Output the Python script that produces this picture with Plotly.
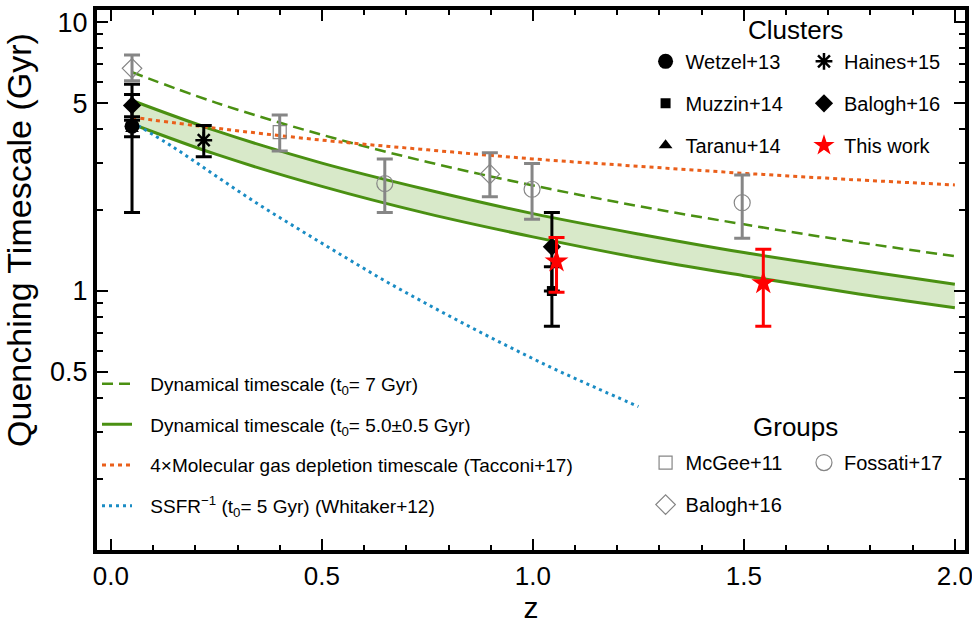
import plotly.graph_objects as go

# ---------------- data ----------------
# model curves
z_dyn = [0.05, 0.25, 0.5, 0.75, 1.0, 1.25, 1.5, 1.75, 2.0]
t_dyn7 = [6.51, 5.01, 3.81, 3.02, 2.47, 2.07, 1.77, 1.535, 1.347]
t_dyn_hi = [5.11, 3.94, 2.99, 2.38, 1.94, 1.63, 1.39, 1.21, 1.06]
t_dyn_lo = [4.18, 3.22, 2.45, 1.94, 1.59, 1.33, 1.14, 0.987, 0.866]
t_gas = [4.43, 4.03, 3.64, 3.35, 3.10, 2.91, 2.74, 2.60, 2.48]

z_ssfr = [0.05, 0.15, 0.25, 0.35, 0.45, 0.55, 0.65, 0.75, 0.85, 0.95, 1.05, 1.15, 1.25]
t_ssfr = [4.25, 3.41, 2.67, 2.10, 1.68, 1.35, 1.09, 0.893, 0.737, 0.613, 0.514, 0.436, 0.372]

# clusters
wetzel_z, wetzel_t, wetzel_up, wetzel_dn = [0.05], [4.1], [0.35], [0.35]
taranu_z, taranu_t, taranu_up, taranu_dn = [0.05], [4.0], [1.87], [2.04]
muzzin_z, muzzin_t, muzzin_up, muzzin_dn = [1.045], [1.0], [0.23], [0.26]
haines_z, haines_t, haines_up, haines_dn = [0.22], [3.64], [0.49], [0.48]
baloghc_z, baloghc_t, baloghc_up, baloghc_dn = [0.05, 1.045], [4.9, 1.46], [0.48, 0.50], [0.58, 0.46]
this_z, this_t, this_up, this_dn = [1.056, 1.546], [1.29, 1.07], [0.29, 0.36], [0.30, 0.33]

# groups
mcgee_z, mcgee_t, mcgee_up, mcgee_dn = [0.40], [3.9], [0.61], [0.58]
fossati_z, fossati_t, fossati_up, fossati_dn = [0.649, 0.998, 1.496], [2.51, 2.39, 2.13], [0.59, 0.59, 0.57], [0.55, 0.54, 0.56]
baloghg_z, baloghg_t, baloghg_up, baloghg_dn = [0.05, 0.898], [6.73, 2.72], [0.81, 0.55], [0.68, 0.48]

x_ticks = [0.0, 0.5, 1.0, 1.5, 2.0]
x_ticktext = ["0.0", "0.5", "1.0", "1.5", "2.0"]
y_ticks = [0.5, 1, 5, 10]
y_ticktext = ["0.5", "1", "5", "10"]
y_minor = [0.2, 0.3, 0.4, 0.6, 0.7, 0.8, 0.9, 2, 3, 4, 6, 7, 8, 9]

# ---------------- styles ----------------
GREEN = "#4a9012"
BAND = "rgba(190,218,165,0.6)"
ORANGE = "#ea5f1a"
BLUE = "#1a8cc4"
GRAY = "#868686"
FONT = "Liberation Sans, Arial, sans-serif"
SP = "\u2002\u2009"

fig = go.Figure()

# band
fig.add_trace(go.Scatter(x=z_dyn, y=t_dyn_lo, mode="lines", line=dict(color=GREEN, width=3, shape="spline"),
                         showlegend=False, hoverinfo="skip"))
fig.add_trace(go.Scatter(x=z_dyn, y=t_dyn_hi, mode="lines", line=dict(color=GREEN, width=3, shape="spline"),
                         fill="tonexty", fillcolor=BAND, showlegend=False, hoverinfo="skip"))

# lines legend traces
fig.add_trace(go.Scatter(x=z_dyn, y=t_dyn7, mode="lines", line=dict(color=GREEN, width=2.5, dash="11px,6px", shape="spline"),
                         name=SP + "Dynamical timescale (t<sub>0</sub>= 7 Gyr)", legend="legend", legendgroup="a"))
fig.add_trace(go.Scatter(x=[None], y=[None], mode="lines", line=dict(color=GREEN, width=3),
                         name=SP + "Dynamical timescale (t<sub>0</sub>= 5.0±0.5 Gyr)", legend="legend", legendgroup="b"))
fig.add_trace(go.Scatter(x=z_dyn, y=t_gas, mode="lines", line=dict(color=ORANGE, width=3, dash="4px,4px", shape="spline"),
                         name=SP + "4×Molecular gas depletion timescale (Tacconi+17)", legend="legend", legendgroup="c"))
fig.add_trace(go.Scatter(x=z_ssfr, y=t_ssfr, mode="lines", line=dict(color=BLUE, width=3, dash="3px,4px", shape="spline"),
                         name=SP + "SSFR<sup>−1</sup> (t<sub>0</sub>= 5 Gyr) (Whitaker+12)", legend="legend", legendgroup="d"))


def pts(x, y, up, dn, name, symbol, size, color, ecolor, legend, group, line_w=0):
    fig.add_trace(go.Scatter(
        x=x, y=y, mode="markers", name=name, legend=legend, legendgroup=group,
        marker=dict(symbol=symbol, size=size, color=color, line=dict(color=color, width=line_w)),
        error_y=dict(type="data", array=up, arrayminus=dn, color=ecolor, thickness=3, width=8),
    ))


# groups (gray)
pts(mcgee_z, mcgee_t, mcgee_up, mcgee_dn, "McGee+11", "square-open", 13, GRAY, GRAY, "legend4", "g1", 1.2)
pts(baloghg_z, baloghg_t, baloghg_up, baloghg_dn, "Balogh+16", "diamond-open", 15, GRAY, GRAY, "legend4", "g2", 1.2)
pts(fossati_z, fossati_t, fossati_up, fossati_dn, "Fossati+17", "circle-open", 16, GRAY, GRAY, "legend5", "g3", 1.2)

# clusters (black)
pts(taranu_z, taranu_t, taranu_up, taranu_dn, "Taranu+14", "triangle-up", 12, "black", "black", "legend2", "c3")
pts(wetzel_z, wetzel_t, wetzel_up, wetzel_dn, "Wetzel+13", "circle", 15, "black", "black", "legend2", "c1")
pts(muzzin_z, muzzin_t, muzzin_up, muzzin_dn, "Muzzin+14", "square", 10, "black", "black", "legend2", "c2")
pts(haines_z, haines_t, haines_up, haines_dn, "Haines+15", "asterisk-open", 14, "black", "black", "legend3", "c4", 2.5)
pts(baloghc_z, baloghc_t, baloghc_up, baloghc_dn, "Balogh+16", "diamond", 14, "black", "black", "legend3", "c5")
pts(this_z, this_t, this_up, this_dn, "This work", "star", 18, "#ff0000", "#ff0000", "legend3", "c6")

order = {"Wetzel+13": 1, "Muzzin+14": 2, "Taranu+14": 3, "Haines+15": 1, "Balogh+16": 2, "This work": 3,
         "McGee+11": 1, "Fossati+17": 1}
for tr in fig.data:
    if tr.name in order:
        tr.legendrank = order[tr.name]

leg_common = dict(bgcolor="rgba(0,0,0,0)", orientation="v", xanchor="left", yanchor="top",
                  font=dict(family=FONT, size=20, color="black"), itemclick=False, itemdoubleclick=False)

fig.update_layout(
    width=972, height=627,
    margin=dict(l=97, r=7, t=10, b=77, autoexpand=False),
    paper_bgcolor="white", plot_bgcolor="white",
    font=dict(family=FONT, color="black"),
    legend=dict(leg_common, x=0.0, y=0.343, tracegroupgap=13, font=dict(family=FONT, size=19, color="black")),
    legend2=dict(leg_common, x=0.632, y=0.941, tracegroupgap=13),
    legend3=dict(leg_common, x=0.8145, y=0.941, tracegroupgap=13),
    legend4=dict(leg_common, x=0.632, y=0.198, tracegroupgap=13),
    legend5=dict(leg_common, x=0.8145, y=0.198, tracegroupgap=13),
    annotations=[
        dict(text="Clusters", x=0.805, y=0.963, xref="paper", yref="paper", showarrow=False,
             xanchor="center", yanchor="middle", font=dict(family=FONT, size=26, color="black")),
        dict(text="Groups", x=0.805, y=0.228, xref="paper", yref="paper", showarrow=False,
             xanchor="center", yanchor="middle", font=dict(family=FONT, size=26, color="black")),
        dict(text="Quenching Timescale (Gyr)", x=-0.09, y=0.574, xref="paper", yref="paper", showarrow=False,
             textangle=-90, xanchor="center", yanchor="middle", font=dict(family=FONT, size=34, color="black")),
    ],
)

fig.update_xaxes(
    range=[-0.033, 2.024], showgrid=False, zeroline=False,
    showline=True, linewidth=4, linecolor="black", mirror="allticks",
    ticks="inside", ticklen=11, tickwidth=2, tickcolor="black",
    tickvals=x_ticks, ticktext=x_ticktext, ticklabeloverflow="allow",
    tickfont=dict(family=FONT, size=26, color="black"),
    minor=dict(ticks="inside", ticklen=5, tickwidth=2, tickcolor="black", dtick=0.1, showgrid=False),
    title=dict(text="z", font=dict(family=FONT, size=30, color="black"), standoff=8),
)
fig.update_yaxes(
    type="log", range=[-0.963, 1.045], showgrid=False, zeroline=False,
    showline=True, linewidth=4, linecolor="black", mirror="allticks",
    ticks="inside", ticklen=11, tickwidth=2, tickcolor="black",
    tickvals=y_ticks, ticktext=y_ticktext, ticklabeloverflow="allow",
    tickfont=dict(family=FONT, size=27, color="black"),
    minor=dict(ticks="inside", ticklen=6, tickwidth=2, tickcolor="black", tickvals=y_minor, showgrid=False),
)

fig.write_html("out.html")
